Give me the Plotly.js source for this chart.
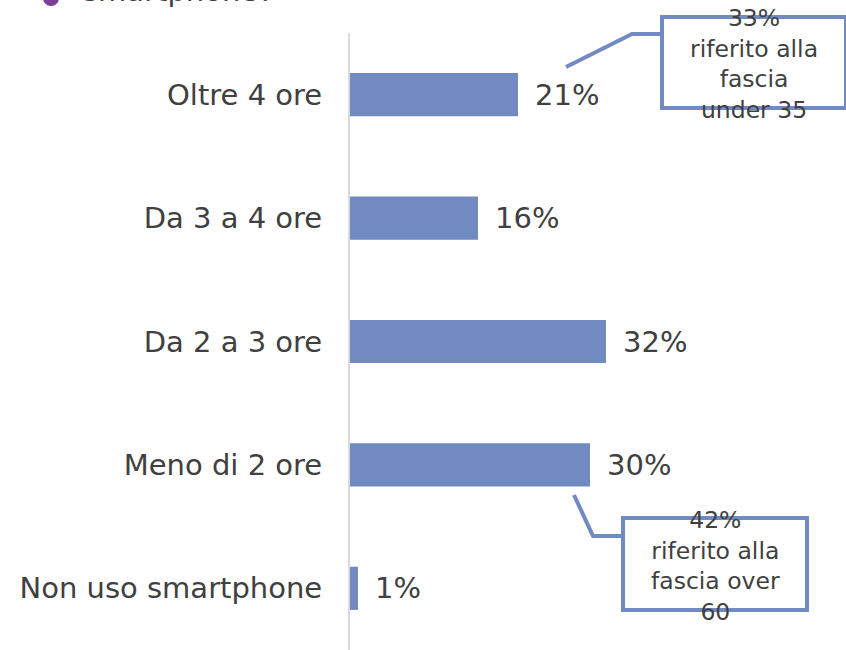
<!DOCTYPE html>
<html>
<head>
<meta charset="utf-8">
<script src="https://cdn.plot.ly/plotly-3.0.1.min.js"></script>
<style>html,body{margin:0;padding:0;background:#fff;}#chart{width:846px;height:650px;}</style>
</head>
<body>
<div id="chart"></div>
<script>
const categories = ["Oltre 4 ore", "Da 3 a 4 ore", "Da 2 a 3 ore", "Meno di 2 ore", "Non uso smartphone"];
const values = [21, 16, 32, 30, 1];
const valueLabels = ["21%", "16%", "32%", "30%", "1%"];
const calloutTexts = ["33%<br>riferito alla<br>fascia<br>under 35", "42%<br>riferito alla<br>fascia over<br>60"];
const titleFragment = "smartphone?";

const blue = "#728AC2";
const textGrey = "#404040";
const font = "DejaVu Sans, Verdana, sans-serif";

const trace = {
  type: "bar",
  orientation: "h",
  x: values,
  y: categories,
  marker: {color: blue},
  width: 0.35,
  hoverinfo: "skip"
};

const labelAnnotations = values.map((v, i) => ({
  x: v, y: categories[i], xref: "x", yref: "y",
  text: valueLabels[i], showarrow: false,
  xanchor: "left", yanchor: "middle", xshift: 15,
  font: {family: font, size: 29, color: textGrey}
}));

const calloutAnnotations = [
  {x: 1.01, y: 0.949, text: calloutTexts[0]},
  {x: 0.9125, y: 0.136, text: calloutTexts[1]}
].map(a => Object.assign(a, {
  xref: "paper", yref: "paper", showarrow: false,
  xanchor: "center", yanchor: "middle",
  font: {family: font, size: 23.5, color: textGrey}
}));

const titleAnn = {
  x: -0.6725, y: 1.037, xref: "paper", yref: "paper", showarrow: false,
  xanchor: "left", yanchor: "bottom", text: titleFragment,
  font: {family: font, size: 29, color: textGrey}
};

const shapes = [
  {type: "rect", xref: "paper", yref: "paper", x0: 0.78, x1: 1.24, y0: 0.8785, y1: 1.026,
   line: {color: blue, width: 4}, fillcolor: "rgba(0,0,0,0)"},
  {type: "rect", xref: "paper", yref: "paper", x0: 0.6825, x1: 1.1425, y0: 0.0648, y1: 0.214,
   line: {color: blue, width: 4}, fillcolor: "rgba(0,0,0,0)"},
  {type: "path", xref: "paper", yref: "paper",
   path: "M 0.54 0.9449 L 0.705 0.9984 L 0.78 0.9984", line: {color: blue, width: 4}},
  {type: "path", xref: "paper", yref: "paper",
   path: "M 0.56 0.2512 L 0.6075 0.1848 L 0.6825 0.1848", line: {color: blue, width: 4}},
  {type: "circle", xref: "paper", yref: "paper", x0: -0.7675, x1: -0.7275, y0: 1.0438, y1: 1.0697,
   line: {width: 0}, fillcolor: "#7E3F9A"}
];

const layout = {
  width: 846, height: 650,
  margin: {l: 350, r: 96, t: 33, b: 0, pad: 0},
  paper_bgcolor: "#fff", plot_bgcolor: "#fff",
  showlegend: false,
  xaxis: {range: [0, 50], visible: false, showgrid: false, zeroline: false, fixedrange: true},
  yaxis: {
    type: "category", autorange: "reversed",
    showline: true, linecolor: "#d9d9d9", linewidth: 2,
    ticks: "", ticklabelstandoff: 20, showgrid: false, zeroline: false,
    tickfont: {family: font, size: 29, color: textGrey}
  },
  annotations: labelAnnotations.concat(calloutAnnotations, [titleAnn]),
  shapes: shapes
};

Plotly.newPlot("chart", [trace], layout, {displayModeBar: false, staticPlot: true});
</script>
</body>
</html>
